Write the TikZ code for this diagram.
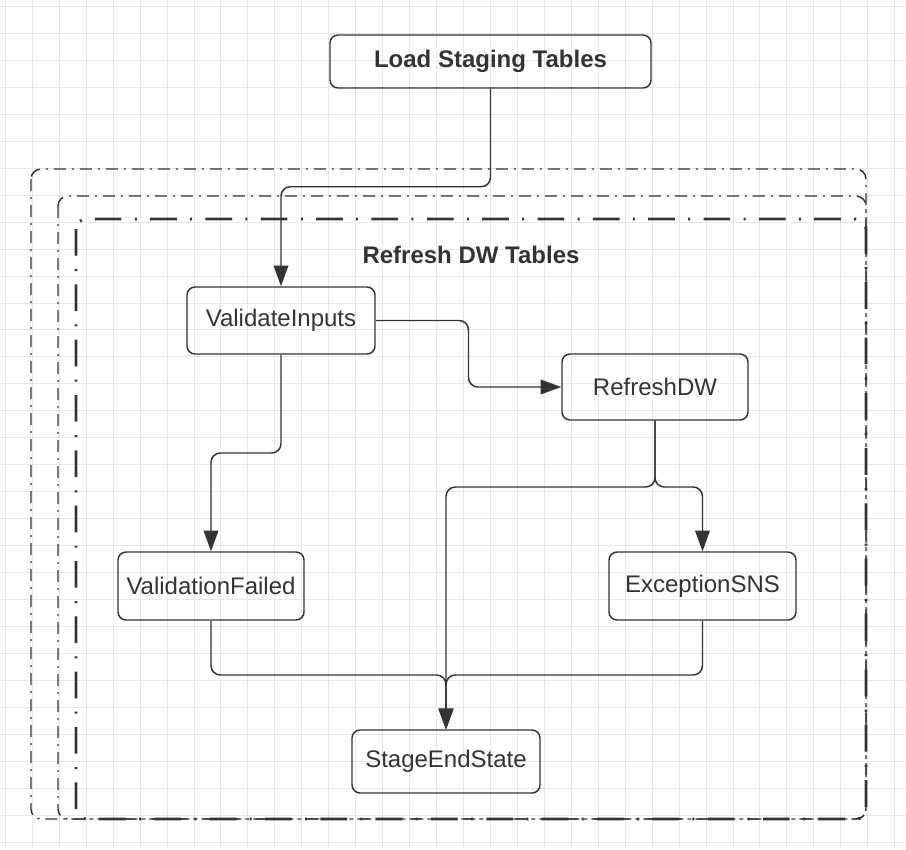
\documentclass[tikz,border=0pt]{standalone}
\usepackage{fontspec}
\setmainfont{Liberation Sans}
\usepackage{xcolor}
\usetikzlibrary{arrows.meta, calc}
\definecolor{ink}{HTML}{333333}
\definecolor{gridgray}{HTML}{E7E7E7}
\tikzset{
  box/.style={draw=ink, line width=1.1pt, rounded corners=6pt, text=ink,
    font=\fontsize{18}{21}\selectfont, align=center, inner sep=0pt},
  flow/.style={draw=ink, line width=1.1pt, rounded corners=7pt,
    -{Triangle[length=15.5pt,width=11pt]}},
  gridline/.style={draw=gridgray, line width=0.65pt},
  lane/.style={draw=ink, line width=1.1pt, rounded corners=7.5pt,
    dash pattern=on 9pt off 4.5pt on 1.5pt off 4.5pt},
  mainlane/.style={draw=ink, line width=2.2pt, rounded corners=7.5pt,
    dash pattern=on 20pt off 10pt on 1.5pt off 10pt},
}
\begin{document}
\begin{tikzpicture}[x=0.75pt, y=-0.75pt]
                    \useasboundingbox[fill=white] (0,0) rectangle (906,849);
                    % background grid
                    \foreach \gx in {0,...,33} \draw[gridline] ({5.3+26.95*\gx},0) -- ++(0,849);
                    \foreach \gy in {0,...,31} \draw[gridline] (0,{6.5+26.95*\gy}) -- ++(906,0);
                    % stacked lanes
                    \draw[lane] (31,169) rectangle (866,819);
                    \draw[lane] (58,196) rectangle (866,819);
                    \draw[mainlane] (76,219) rectangle (866,819);
                    \node[text=ink, font=\fontsize{18}{21}\selectfont\bfseries] (title) at (471,255) {Refresh DW Tables};
                    % states
                    \node[box, minimum width=240.75pt, minimum height=39.75pt, font=\fontsize{18}{21}\selectfont\bfseries] (load) at (490.5,61.5) {Load Staging Tables};
                    \node[box, minimum width=141pt, minimum height=50.25pt] (vin) at (281,320.5) {ValidateInputs};
                    \node[box, minimum width=139.5pt, minimum height=49.5pt] (rdw) at (655,387) {RefreshDW};
                    \node[box, minimum width=139.5pt, minimum height=51pt] (vfail) at (211,586) {ValidationFailed};
                    \node[box, minimum width=140.25pt, minimum height=51pt] (exc) at (702.5,586) {ExceptionSNS};
                    \node[box, minimum width=141pt, minimum height=47.25pt] (sed) at (446,761.5) {StageEndState};
                    \coordinate (split) at (655,487);
                    \coordinate (join) at (446,675);
                    % transitions
                    \draw[flow] (load.south) -- ++(0,98) -| (vin.north);
                    \draw[flow] (vin.east) -| ($(vin.east)!0.5!(rdw.west)$) |- (rdw.west);
                    \draw[flow] (vin.south) |- ($(vin.south)!0.5!(vfail.north)$) -| (vfail.north);
                    \draw[flow] (rdw.south) -- (split) -| (exc.north);
                    \draw[flow] (rdw.south) -- (split) -| (sed.north);
                    \draw[flow] (vfail.south) |- (join) -- (sed.north);
                    \draw[flow] (exc.south) |- (join) -- (sed.north);
                \end{tikzpicture}
\end{document}
